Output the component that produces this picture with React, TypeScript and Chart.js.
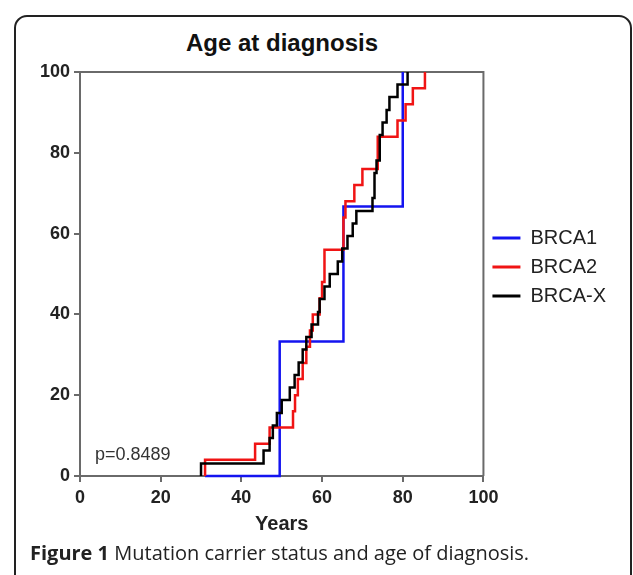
import React, { useEffect, useRef } from "react";
import { Chart, registerables } from "chart.js";

Chart.register(...registerables);

// ---- data (ages in years, cumulative % diagnosed) ----
const xTickValues = [0, 20, 40, 60, 80, 100];
const yTickValues = [0, 20, 40, 60, 80, 100];

const brca1Start = 31;
const brca1Ages = [49.5, 65.3, 80];
const brca1Pct = [33.3, 66.7, 100];

const brca2Start = 31;
const brca2Ages = [31, 43.4, 47, 52.8, 53.3, 54, 55.2, 56.1, 57, 57.7, 59.4, 60, 60.6, 65.3, 65.8, 68, 70, 73.8, 78.7, 80.7, 82.5, 85.5];
const brca2Pct = [4, 8, 12, 16, 20, 24, 28, 32, 36, 40, 44, 48, 56, 64, 68, 72, 76, 84, 88, 92, 96, 100];

const brcaXStart = 30;
const brcaXAges = [30, 45.5, 47, 47.8, 48.8, 50, 52, 53.2, 54.2, 55.2, 56.1, 57.4, 59, 59.4, 60.6, 61.9, 63.9, 65, 66.3, 67.6, 68.5, 72.5, 73, 73.5, 74.3, 75, 76, 76.7, 78.7, 81.2];
const brcaXPct = [3.1, 6.3, 9.4, 12.5, 15.6, 18.8, 21.9, 25, 28.1, 31.3, 34.4, 37.5, 40.6, 43.8, 46.9, 50, 53.1, 56.3, 59.4, 62.5, 65.6, 68.8, 75, 78.1, 84.4, 87.5, 90.6, 93.8, 96.9, 100];

const seriesLabels = ["BRCA1", "BRCA2", "BRCA-X"];
const seriesColors = ["#1414f0", "#f01414", "#000000"];
const pValueText = "p=0.8489";

const toSteps = (start: number, ages: number[], pct: number[]) => [
  { x: start, y: 0 },
  ...ages.map((a, i) => ({ x: a, y: pct[i] })),
];

const framePlugin = {
  id: "frameBox",
  afterLayout(chart: any) {
    if (chart.legend) {
      chart.legend.top -= 39;
      chart.legend.bottom -= 39;
    }
  },
  beforeDatasetsDraw(chart: any) {
    const { ctx, chartArea } = chart;
    ctx.save();
    ctx.strokeStyle = "#6a6a6a";
    ctx.lineWidth = 2;
    ctx.beginPath();
    ctx.moveTo(chartArea.left, chartArea.top);
    ctx.lineTo(chartArea.right, chartArea.top);
    ctx.lineTo(chartArea.right, chartArea.bottom);
    ctx.stroke();
    ctx.font = "18px 'Liberation Sans', Arial, sans-serif";
    ctx.fillStyle = "#333333";
    ctx.textBaseline = "middle";
    ctx.textAlign = "left";
    ctx.fillText(pValueText, chartArea.left + 15, chartArea.bottom - 21);
    ctx.restore();
  },
};

export default function App() {
  const ref = useRef<HTMLCanvasElement>(null);

  useEffect(() => {
    document.body.style.margin = "0";
    const font = "'Liberation Sans', Arial, sans-serif";
    const chart = new Chart(ref.current as HTMLCanvasElement, {
      type: "line",
      data: {
        datasets: [
          {
            label: seriesLabels[0],
            data: toSteps(brca1Start, brca1Ages, brca1Pct),
            borderColor: seriesColors[0],
            backgroundColor: seriesColors[0],
            borderWidth: 2.5,
            pointRadius: 0,
            stepped: true,
            order: 3,
            clip: false,
          },
          {
            label: seriesLabels[1],
            data: toSteps(brca2Start, brca2Ages, brca2Pct),
            borderColor: seriesColors[1],
            backgroundColor: seriesColors[1],
            borderWidth: 2.5,
            pointRadius: 0,
            stepped: true,
            order: 2,
            clip: false,
          },
          {
            label: seriesLabels[2],
            data: toSteps(brcaXStart, brcaXAges, brcaXPct),
            borderColor: seriesColors[2],
            backgroundColor: seriesColors[2],
            borderWidth: 2.5,
            pointRadius: 0,
            stepped: true,
            order: 1,
            clip: false,
          },
        ] as any,
      },
      options: {
        animation: false,
        responsive: false,
        maintainAspectRatio: false,
        layout: { padding: { top: 72, left: 0, right: 17, bottom: 0 } },
        scales: {
          x: {
            type: "linear",
            min: 0,
            max: 100,
            afterBuildTicks: (s: any) => {
              s.ticks = xTickValues.map((v) => ({ value: v }));
            },
            afterFit: (s: any) => {
              s.height = 64;
            },
            ticks: {
              color: "#222",
              font: { family: font, size: 18, weight: "bold" },
              padding: 5,
              maxRotation: 0,
              autoSkip: false,
            },
            grid: {
              drawOnChartArea: false,
              drawTicks: true,
              tickLength: 6,
              color: "#6a6a6a",
              lineWidth: 2,
            },
            border: { color: "#6a6a6a", width: 2 },
            title: {
              display: true,
              text: "Years",
              color: "#222",
              font: { family: font, size: 20, weight: "bold" },
              padding: { top: 0, bottom: 4 },
            },
          },
          y: {
            type: "linear",
            min: 0,
            max: 100,
            afterBuildTicks: (s: any) => {
              s.ticks = yTickValues.map((v) => ({ value: v }));
            },
            afterFit: (s: any) => {
              s.width = 80;
            },
            ticks: {
              color: "#222",
              font: { family: font, size: 18, weight: "bold" },
              padding: 4,
              autoSkip: false,
            },
            grid: {
              drawOnChartArea: false,
              drawTicks: true,
              tickLength: 6,
              color: "#6a6a6a",
              lineWidth: 2,
            },
            border: { color: "#6a6a6a", width: 2 },
          },
        },
        plugins: {
          title: { display: false },
          tooltip: { enabled: false },
          legend: {
            display: true,
            position: "right",
            align: "center",
            labels: {
              boxWidth: 28,
              boxHeight: 3,
              padding: 9,
              color: "#222",
              font: { family: font, size: 20 },
              sort: (a: any, b: any) => a.datasetIndex - b.datasetIndex,
              generateLabels: (c: any) =>
                (Chart.defaults.plugins.legend.labels.generateLabels as any)(c).map((it: any) => ({
                  ...it,
                  fillStyle: it.strokeStyle,
                  lineWidth: 0,
                })),
            },
          },
        },
      } as any,
      plugins: [framePlugin],
    });
    return () => chart.destroy();
  }, []);

  return (
    <div style={{ position: "absolute", left: 0, top: 0, width: 633, height: 575, overflow: "hidden", background: "#fff" }}>
      <div
        style={{
          position: "absolute",
          left: 14,
          top: 15,
          width: 618,
          height: 620,
          border: "2px solid #222",
          borderRadius: 13,
          boxSizing: "border-box",
        }}
      />
      <div
        style={{
          position: "absolute",
          left: 0,
          top: 29,
          width: 564,
          textAlign: "center",
          font: "bold 24px 'Liberation Sans', Arial, sans-serif",
          lineHeight: "28px",
          color: "#111",
        }}
      >
        Age at diagnosis
      </div>
      <canvas ref={ref} width={633} height={540} style={{ position: "absolute", left: 0, top: 0, width: 633, height: 540 }} />
      <div
        style={{
          position: "absolute",
          left: 30,
          top: 540,
          font: "20px 'Open Sans', sans-serif",
          lineHeight: "26px",
          color: "#222",
          whiteSpace: "nowrap",
        }}
      >
        <b style={{ fontWeight: 700 }}>Figure 1</b> Mutation carrier status and age of diagnosis.
      </div>
    </div>
  );
}
